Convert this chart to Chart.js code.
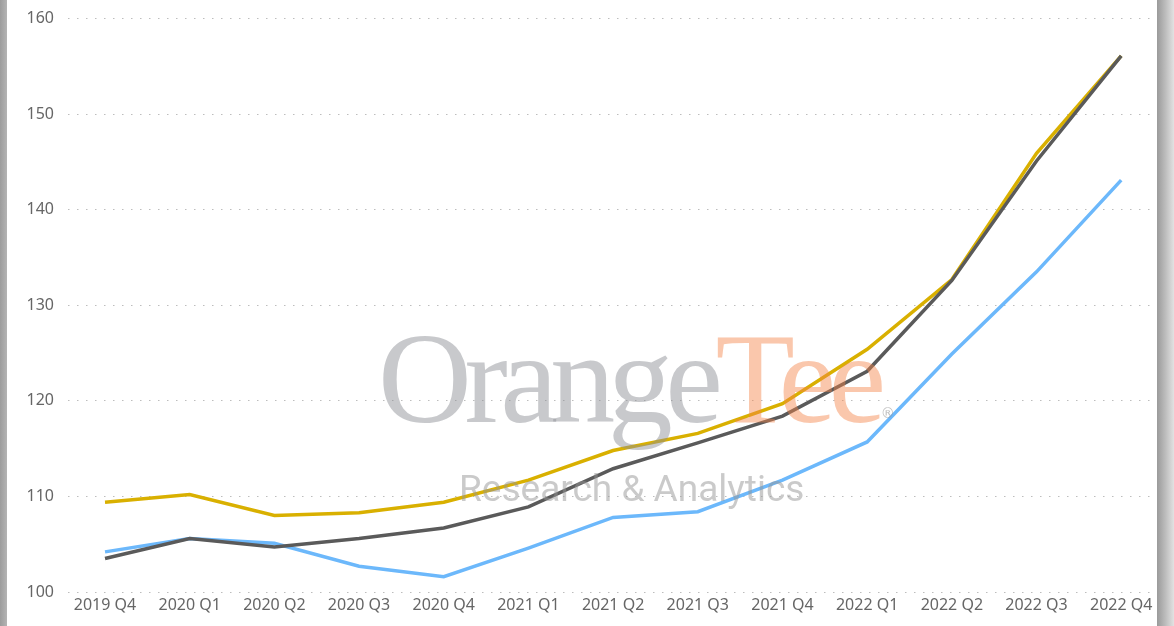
<!DOCTYPE html>
<html>
<head>
<meta charset="utf-8">
<script src="https://cdn.jsdelivr.net/npm/chart.js@4"></script>
<style>
  body { margin: 0; background: #fff; }
  #wrap { position: relative; width: 1174px; height: 626px; overflow: hidden; background: #fff; }
  #lineChart { position: absolute; left: 0; top: -5px; }
  #leftBar { position: absolute; left: 0; top: 0; width: 7px; height: 626px; background: linear-gradient(to right, #9c9c9c, #b4b4b4); }
  #rightBar { position: absolute; left: 1157px; top: 0; width: 17px; height: 626px; background: linear-gradient(to right, #9a9a9a, #bdbdbd 50%, #e2e2e2); }
  #mark { position: absolute; left: 0; top: 0; width: 1174px; height: 626px; pointer-events: none; }
  #markTop { position: absolute; left: 378px; top: 313px; font-family: "Liberation Serif", serif; font-size: 130px; letter-spacing: -7.5px; line-height: 1; white-space: nowrap; }
  #markTop .o { color: rgba(140, 142, 148, 0.48); }
  #markTop .t { color: rgba(245, 130, 70, 0.45); }
  #markTop sup { font-family: "DejaVu Sans", sans-serif; font-size: 14px; letter-spacing: 0; color: rgba(150,150,150,0.6); position: relative; top: -4px; vertical-align: baseline; margin-left: 2px; }
  #markBottom { position: absolute; left: 459px; top: 467px; font-family: Roboto, sans-serif; font-size: 37px; color: rgba(150, 150, 150, 0.5); white-space: nowrap; }
</style>
</head>
<body>
<div id="wrap">
  <canvas id="lineChart" width="1174" height="631"></canvas>
  <div id="leftBar"></div>
  <div id="rightBar"></div>
  <div id="mark">
    <div id="markTop"><span class="o">Orange</span><span class="t">Tee</span><sup>®</sup></div>
    <div id="markBottom">Research &amp; Analytics</div>
  </div>
</div>
<script>
var quarters = ['2019 Q4', '2020 Q1', '2020 Q2', '2020 Q3', '2020 Q4', '2021 Q1', '2021 Q2',
                '2021 Q3', '2021 Q4', '2022 Q1', '2022 Q2', '2022 Q3', '2022 Q4'];
var greySeries = [103.5, 105.6, 104.7, 105.6, 106.7, 108.9, 112.9, 115.6, 118.4, 123.1, 132.6, 145.1, 156.1];
var goldSeries = [109.4, 110.2, 108.0, 108.3, 109.4, 111.7, 114.8, 116.6, 119.7, 125.4, 132.7, 145.9, 156.1];
var blueSeries = [104.2, 105.6, 105.1, 102.7, 101.6, 104.6, 107.8, 108.4, 111.7, 115.7, 124.9, 133.5, 143.1];
var yTicks = [100, 110, 120, 130, 140, 150, 160];

function toPoints(values) {
    return values.map((v, i) => ({ x: i, y: v }));
}

var ctx = document.getElementById('lineChart').getContext('2d');
var datasets = [
    { label: 'Grey', borderColor: '#5a5a5a', data: toPoints(greySeries) },
    { label: 'Gold', borderColor: '#d9b000', data: toPoints(goldSeries) },
    { label: 'Blue', borderColor: '#6cb8fb', data: toPoints(blueSeries) }
];
datasets.forEach(d => {
    d.borderWidth = 3.5;
    d.pointRadius = 0;
    d.tension = 0;
    d.fill = false;
});

var tickFont = { family: '"Noto Sans", sans-serif', size: 16 };

var chart = new Chart(ctx, {
    type: 'line',
    data: { datasets: datasets },
    options: {
        responsive: false,
        animation: false,
        layout: { padding: { top: 11, right: 24, bottom: 0, left: 0 } },
        plugins: { legend: { display: false }, tooltip: { enabled: false } },
        scales: {
            x: {
                type: 'linear',
                min: -0.437,
                max: 12.34,
                grid: { display: false, drawTicks: false },
                border: { display: false },
                afterBuildTicks: s => { s.ticks = quarters.map((q, i) => ({ value: i })); },
                afterFit: s => { s.height = 34; },
                ticks: {
                    autoSkip: false,
                    maxRotation: 0,
                    padding: 4,
                    color: '#666',
                    font: tickFont,
                    callback: v => quarters[v]
                }
            },
            y: {
                min: 100,
                max: 160,
                afterBuildTicks: s => { s.ticks = yTicks.map(v => ({ value: v })); },
                afterFit: s => { s.width = 68; },
                grid: { color: '#bdbdbd', lineWidth: 1, drawTicks: false },
                border: { display: false, dash: [1.5, 7.5] },
                ticks: { padding: 14, color: '#666', font: tickFont }
            }
        }
    }
});
</script>
</body>
</html>
